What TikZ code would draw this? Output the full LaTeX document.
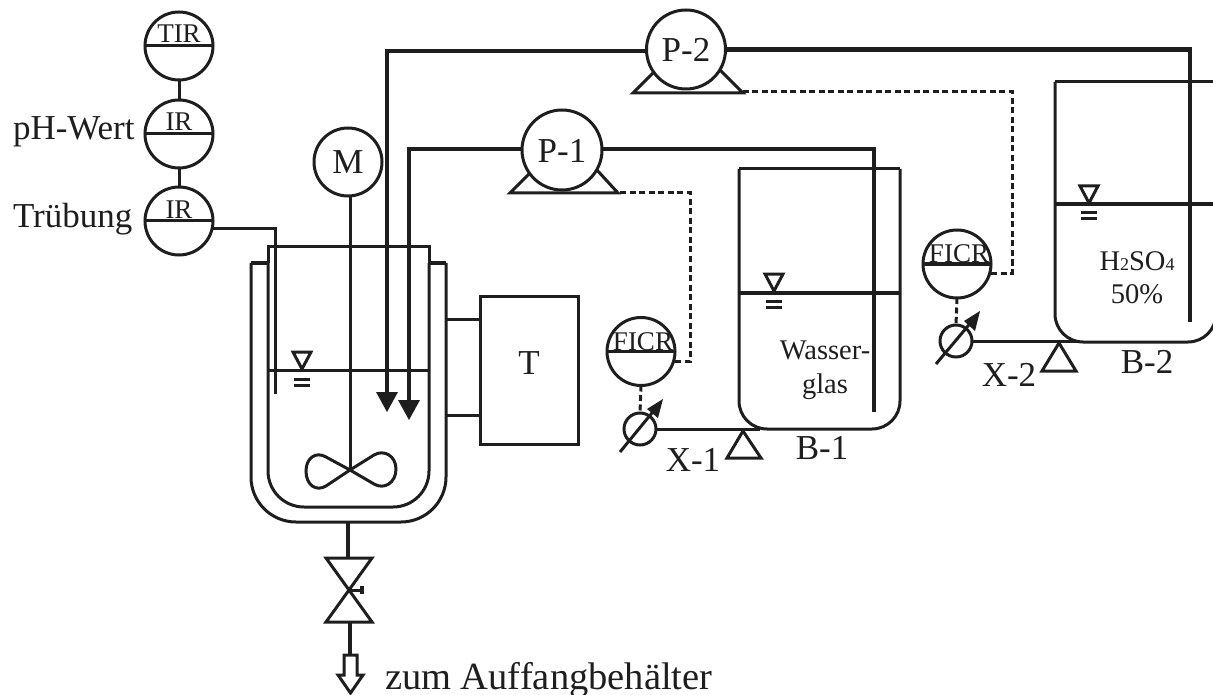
\documentclass[tikz,border=0pt]{standalone}
\usepackage{fontspec}
\setmainfont{Liberation Serif}
\usetikzlibrary{calc}
\definecolor{ink}{HTML}{1E1E1E}
\tikzset{
  x=1pt,y=-1pt,
  every node/.style={text=ink,inner sep=0pt,outer sep=0pt},
  thin line/.style={draw=ink,line width=3pt},
  mid line/.style={draw=ink,line width=3pt},
  pipe/.style={draw=ink,line width=4.8pt},
  sig/.style={draw=ink,line width=3pt,dash pattern=on 6pt off 3.5pt},
  instr/.style={circle,draw=ink,line width=3pt,minimum size=68pt,fill=white},
  pumpc/.style={circle,draw=ink,line width=3pt,fill=white},
  big/.style={font=\fontsize{35}{35}\selectfont},
  lab/.style={big,anchor=base west},
  cen/.style={big,anchor=base},
  ilab/.style={font=\fontsize{27}{27}\selectfont,anchor=base},
  tlab/.style={font=\fontsize{28.5}{28.5}\selectfont,anchor=base},
  head/.style={fill=ink,draw=none},
}
\newcommand{\levelmark}[2]{%
  \draw[mid line,line join=miter] (#1-9,#2-18) -- (#1+9,#2-18) -- (#1,#2-1) -- cycle;
  \draw[mid line] (#1-8,#2+9) -- (#1+8,#2+9) (#1-8,#2+15) -- (#1+8,#2+15);}
\begin{document}
\begin{tikzpicture}
\useasboundingbox (0,0) rectangle (1213,695);
\begin{scope}
\clip (0,0) rectangle (1213,695);
% instruments
\node[instr] (tir) at (179,46) {};
\node[instr] (ph) at (179,134) {};
\node[instr] (tr) at (179,221) {};
\draw[mid line] (tir) -- (ph);
\draw[mid line] (ph) -- (tr);
\foreach \n in {tir,ph,tr}{\draw[mid line] (\n.west) -- (\n.east);}
\node[ilab] at (179,43) {TIR};
\node[ilab] at (179,131) {IR};
\node[ilab] at (179,219) {IR};
\node[lab] at (13,140) {pH-Wert};
\node[lab] at (13,228) {Trübung};
\coordinate (trEnd) at (275,394);
\draw[mid line] (tr.east |- 0,229) -- (275,229) -- (trEnd);
% vessel
\draw[thin line,rounded corners=36pt] (268,263) -- (268,507) -- (429,507) -- (429,263);
\draw[thin line] (268,263) -- (268,247) -- (429,247) -- (429,263);
\draw[thin line,rounded corners=45pt] (251,263) -- (251,522) -- (446,522) -- (446,263);
\draw[thin line] (251,263) -- (268,263) (429,263) -- (446,263);
\draw[thin line] (268,370) -- (429,370);
\levelmark{302}{370}
% motor shaft and impeller
\coordinate (imp) at (350,470);
\draw[thin line] (350,197) -- (imp);
\draw[thin line] (imp) -- (326,457) .. controls (316,451) and (306,458) .. (306,471) .. controls (306,485) and (316,492) .. (326,486) -- (imp);
\draw[thin line] (imp) -- (374,455) .. controls (384,449) and (396,456) .. (396,469) .. controls (396,483) and (384,490) .. (374,484) -- (imp);
% pipe ends
\coordinate (t1) at (387,394);
\coordinate (t2) at (409,401);
\coordinate (p1in) at (874,412);
\coordinate (p2in) at (1190,322);
% T
\node[draw=ink,line width=3pt,minimum width=98pt,minimum height=148pt] (t) at (529,370) {};
\node[cen] at (529,374) {T};
\draw[mid line] (446,319) -- (t.west |- 0,319);
\draw[mid line] (446,415) -- (t.west |- 0,415);
% B-1
\draw[thin line,rounded corners=28pt] (739,169) -- (739,429) -- (900,429) -- (900,169);
\draw[thin line] (739,169) -- (900,169);
\draw[mid line,line width=3.6pt] (739,293) -- (900,293);
\levelmark{774}{292}
\node[tlab] at (825,359) {Wasser-};
\node[tlab] at (825,393) {glas};
\node[cen] at (822,459) {B-1};
% FICR 1
\node[instr] (f1) at (641,351.5) {};
\draw[mid line] (f1.west) -- (f1.east);
\node[ilab] at (643,350) {FICR};
\node[circle,draw=ink,line width=3pt,minimum size=32pt] (v1) at (640,429) {};
\draw[sig] (f1.south) -- (v1.north);
\draw[sig] (f1.east |- 0,361) -- (690,361) -- (690,193) -- (618,193);
\coordinate (a1a) at (620,452);
\coordinate (a1b) at (656,408);
\draw[mid line] (a1a) -- (a1b);
\fill[head] (663,399) -- (658,418) -- (647,409) -- cycle;
\draw[mid line] (v1.east) -- (760,429);
\draw[mid line,line join=miter] (743,431) -- (761,458) -- (727,458) -- cycle;
\node[cen] at (693,471) {X-1};
% B-2
\draw[thin line,rounded corners=28pt] (1055,82) -- (1055,342) -- (1216,342) -- (1216,82);
\draw[thin line] (1055,82) -- (1216,82);
\draw[mid line,line width=3.6pt] (1055,204) -- (1216,204);
\levelmark{1089}{204}
\node[tlab] at (1137,270) {H{\fontsize{18}{18}\selectfont 2}SO{\fontsize{18}{18}\selectfont 4}};
\node[tlab] at (1137,303) {50\%};
\node[cen] at (1147,373) {B-2};
% FICR 2
\node[instr] (f2) at (957,264) {};
\draw[mid line] (f2.west) -- (f2.east);
\node[ilab] at (959,262) {FICR};
\node[circle,draw=ink,line width=3pt,minimum size=32pt] (v2) at (956,341) {};
\draw[sig] (f2.south) -- (v2.north);
\draw[sig] (f2.east |- 0,273) -- (1012,273) -- (1012,92) -- (743,92);
\coordinate (a2a) at (936,364);
\coordinate (a2b) at (973,320);
\draw[mid line] (a2a) -- (a2b);
\fill[head] (980,311) -- (975,331) -- (964,321) -- cycle;
\draw[mid line] (v2.east) -- (1080,341);
\draw[mid line,line join=miter] (1059,343) -- (1076,371) -- (1042,371) -- cycle;
\node[cen] at (1009,386) {X-2};
% P-1
\draw[mid line,line join=miter] (530,173) -- (510,193) -- (618,193) -- (596,169);
\node[pumpc,minimum size=80pt] (p1) at (562,150) {};
\node[cen] at (562,163) {P-1};
\draw[pipe] (p1.east |- 0,149) -- (874,149) -- (p1in);
\draw[pipe] (p1.west |- 0,149) -- (409,149) -- (t2);
\fill[head] (398,400) -- (420,400) -- (409,420) -- cycle;
% P-2
\draw[mid line,line join=miter] (653,73) -- (633,93) -- (743,93) -- (720,70);
\node[pumpc,minimum size=79pt] (p2) at (686,49.5) {};
\node[cen] at (686,62) {P-2};
\draw[pipe] (p2.west |- 0,51) -- (387,51) -- (t1);
\fill[head] (376,392) -- (398,392) -- (387,412) -- cycle;
\draw[pipe] (p2.east |- 0,49.5) -- (1190,49.5) -- (p2in);
% motor circle
\node[pumpc,minimum size=68pt] (m) at (348,162) {};
\node[cen] at (348,174) {M};
% outlet
\coordinate (vc) at (349,590);
\coordinate (vessb) at (348,522);
\draw[pipe] (vessb) -- (348,558);
\draw[mid line,line join=miter] (326,558) -- (372,558) -- (vc) -- cycle;
\draw[mid line,line join=miter] (326,622) -- (372,622) -- (vc) -- cycle;
\draw[mid line] (vc) -- (362,590);
\draw[mid line,line width=4pt] (362,586) -- (362,594);
\coordinate (o1) at (350,622);
\coordinate (o2) at (350,655);
\draw[pipe] (o1) -- (o2);
\draw[mid line,line join=miter] (344,655) -- (357,655) -- (357,675) -- (363,675) -- (350.5,693) -- (338,675) -- (344,675) -- cycle;
\node[lab,font=\fontsize{38.5}{38.5}\selectfont] at (385,689) {zum Auffangbehälter};
\end{scope}
\end{tikzpicture}
\end{document}
